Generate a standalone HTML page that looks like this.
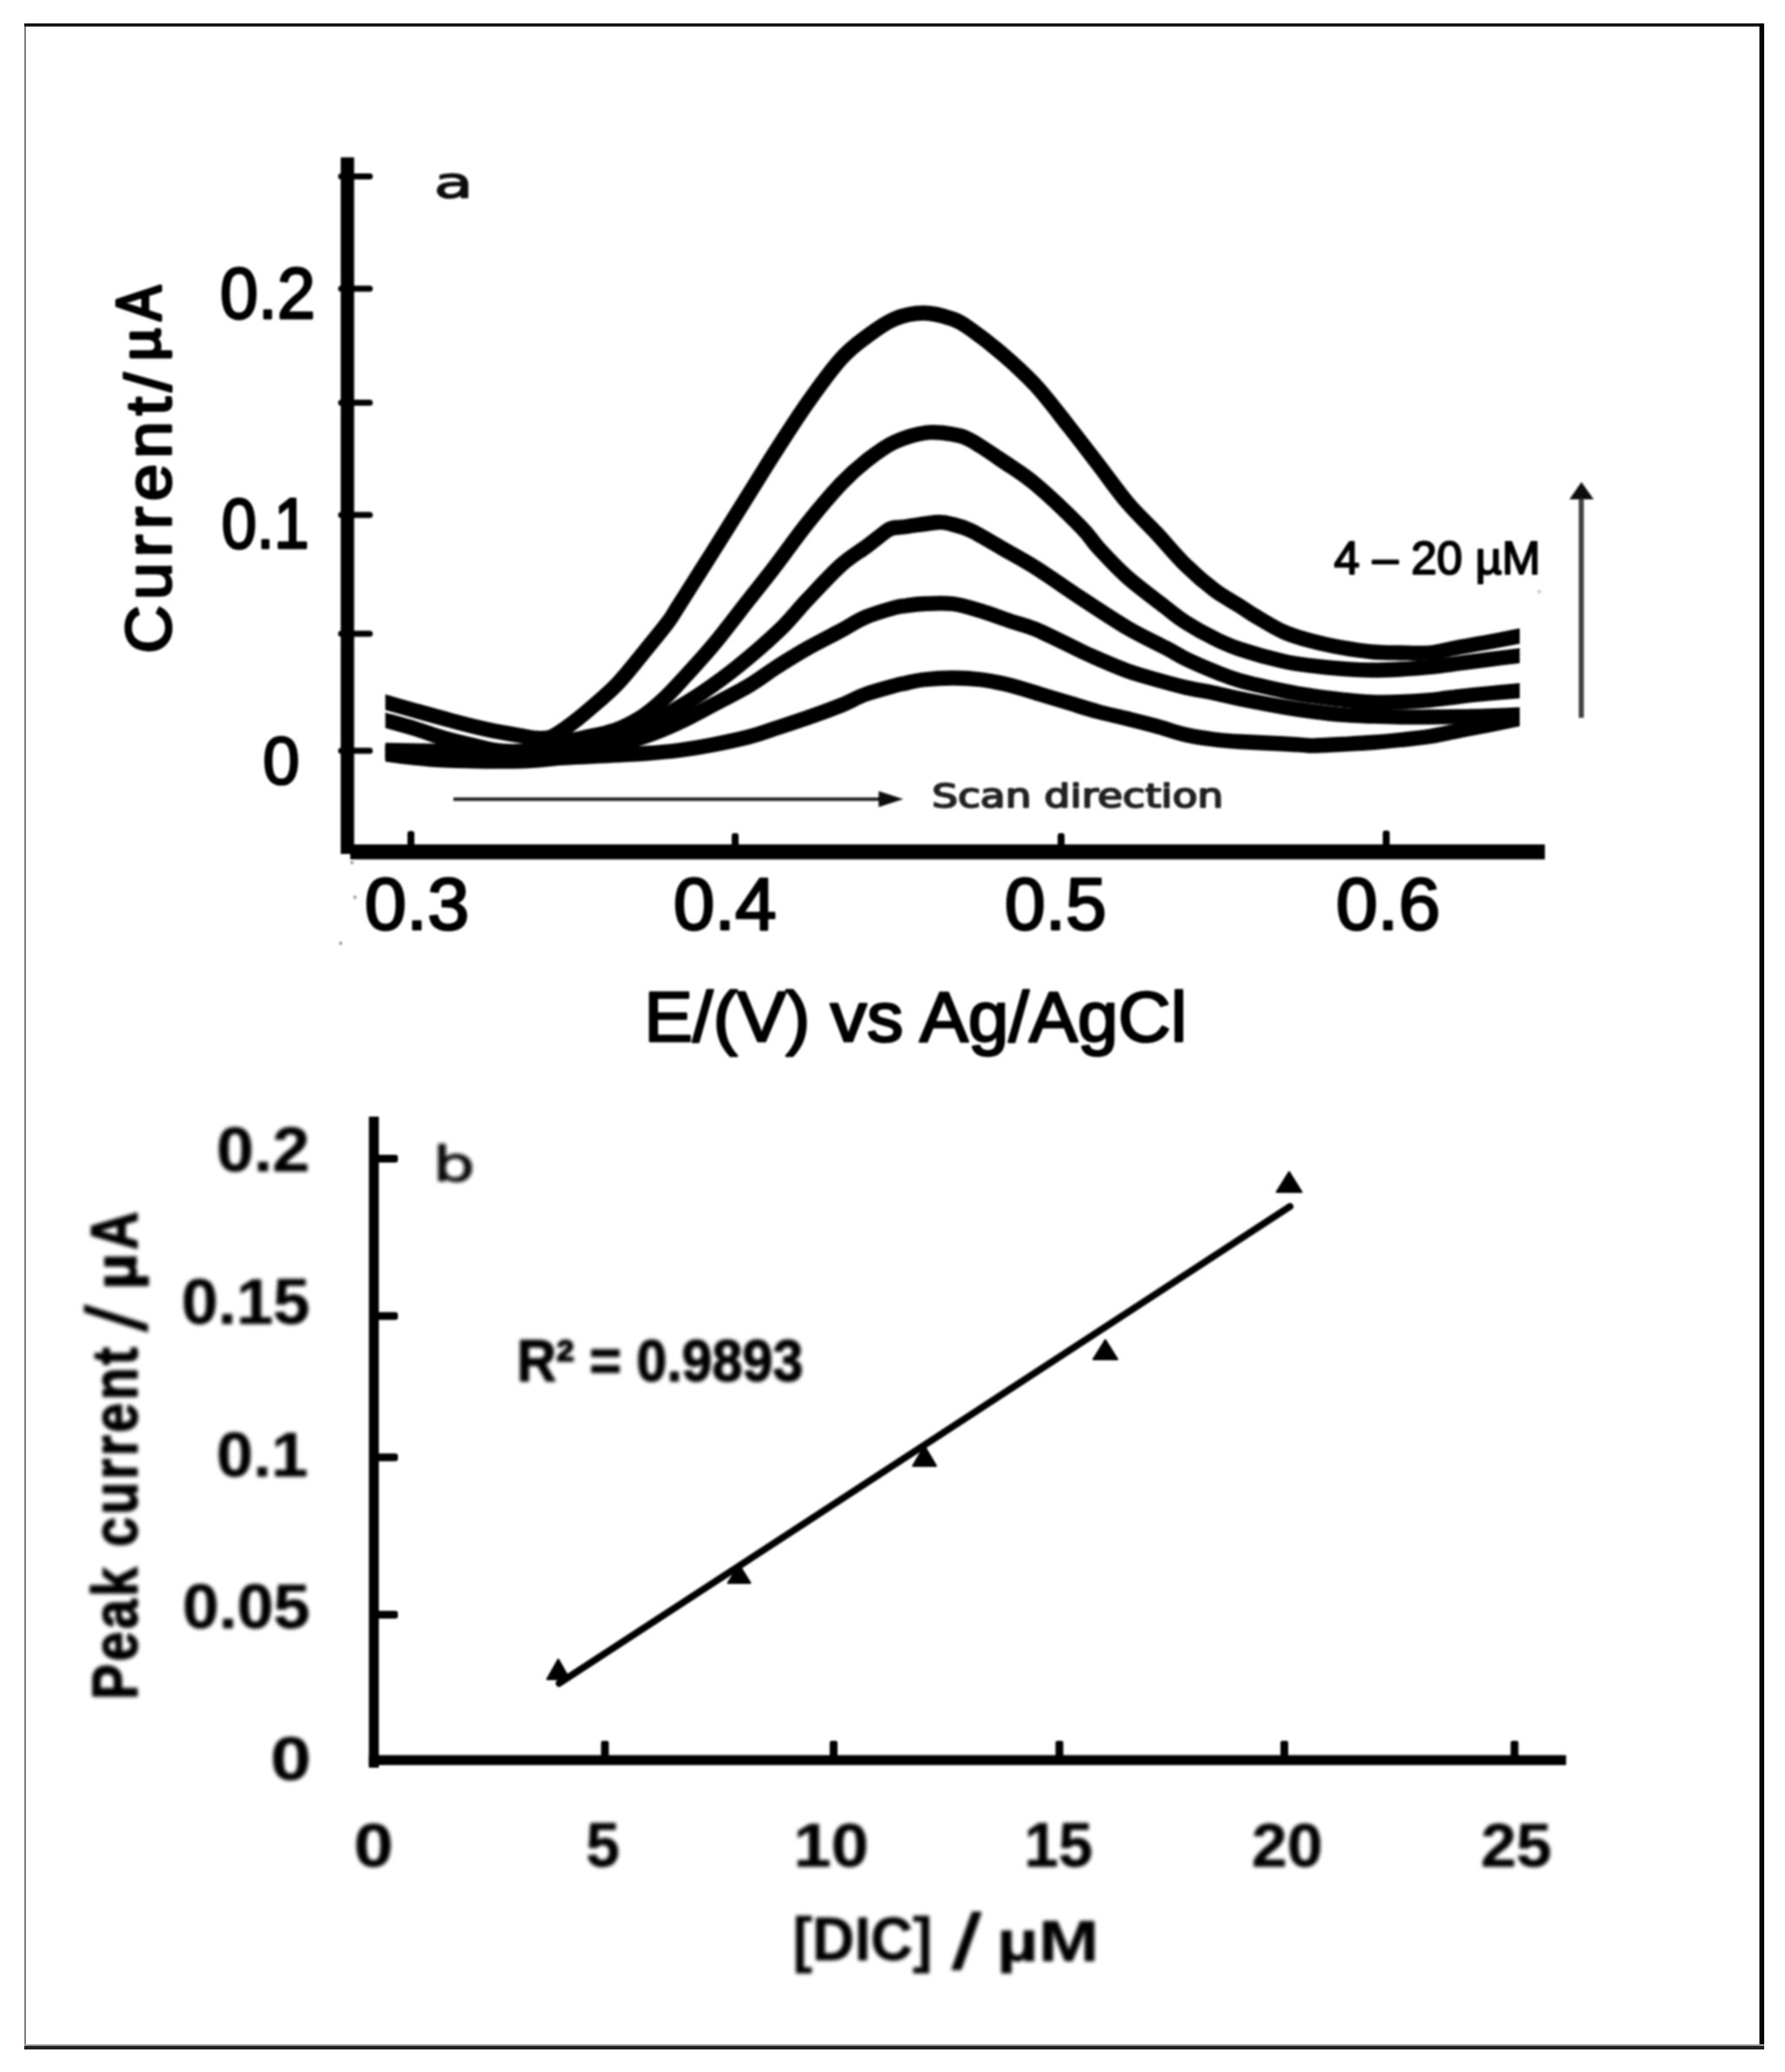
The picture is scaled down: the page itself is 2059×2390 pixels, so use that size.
<!DOCTYPE html>
<html lang="en"><head><meta charset="utf-8"><title>Figure</title>
<style>
html,body{margin:0;padding:0;background:#fff;}
body{width:2059px;height:2390px;overflow:hidden;position:relative;}
svg{position:absolute;left:0;top:0;display:block;}
text{white-space:pre;}
</style></head><body>
<svg width="2059" height="2390" viewBox="0 0 2059 2390">
<defs><filter id="soft" x="0" y="0" width="2059" height="2390" filterUnits="userSpaceOnUse"><feGaussianBlur stdDeviation="1.3"/></filter><filter id="soft2" x="0" y="0" width="2059" height="2390" filterUnits="userSpaceOnUse"><feGaussianBlur stdDeviation="1.9"/></filter></defs>
<rect x="0" y="0" width="2059" height="2390" fill="#fff"/>
<rect x="28" y="28.5" width="2" height="2333" fill="#7f7f7f"/>
<rect x="28" y="27" width="2007" height="3.6" fill="#111"/>
<rect x="2029.5" y="27" width="5.5" height="2337" fill="#050505"/>
<rect x="28" y="2358" width="2007" height="2" fill="#aaa"/>
<rect x="28" y="2359.8" width="2007" height="4.2" fill="#222"/>
<g filter="url(#soft)">
<rect x="393" y="181.5" width="15.5" height="803.5" fill="#000"/>
<rect x="404" y="974" width="1378" height="17.3" fill="#000"/>
<rect x="390" y="200.0" width="40" height="7" rx="3.5" fill="#000"/>
<rect x="390" y="329.5" width="40" height="7" rx="3.5" fill="#000"/>
<rect x="390" y="461.0" width="40" height="7" rx="3.5" fill="#000"/>
<rect x="390" y="590.5" width="40" height="7" rx="3.5" fill="#000"/>
<rect x="390" y="727.5" width="40" height="7" rx="3.5" fill="#000"/>
<rect x="390" y="862.5" width="40" height="7" rx="3.5" fill="#000"/>
<rect x="470" y="958.5" width="8" height="19.5" rx="3" fill="#000"/>
<rect x="844" y="961" width="8" height="17" rx="3" fill="#000"/>
<rect x="1220" y="961" width="8" height="17" rx="3" fill="#000"/>
<rect x="1595" y="958" width="8" height="20" rx="3" fill="#000"/>
<text transform="matrix(0.7908 0 0 0.8311 253.69 367.32)" font-family="'Liberation Sans', sans-serif" font-weight="normal" font-size="100" fill="#000" stroke="#000" stroke-width="3.33" stroke-linejoin="round">0.2</text>
<text transform="matrix(0.7278 0 0 0.8240 255.44 632.33)" font-family="'Liberation Sans', sans-serif" font-weight="normal" font-size="100" fill="#000" stroke="#000" stroke-width="3.49" stroke-linejoin="round">0.1</text>
<text transform="matrix(0.7602 0 0 0.7816 303.31 903.87)" font-family="'Liberation Sans', sans-serif" font-weight="normal" font-size="100" fill="#000" stroke="#000" stroke-width="3.50" stroke-linejoin="round">0</text>
<text transform="matrix(0.8696 0 0 0.8523 420.47 1071.80)" font-family="'Liberation Sans', sans-serif" font-weight="normal" font-size="100" fill="#000" stroke="#000" stroke-width="3.14" stroke-linejoin="round">0.3</text>
<text transform="matrix(0.8560 0 0 0.8523 776.63 1071.80)" font-family="'Liberation Sans', sans-serif" font-weight="normal" font-size="100" fill="#000" stroke="#000" stroke-width="3.16" stroke-linejoin="round">0.4</text>
<text transform="matrix(0.8473 0 0 0.8523 1158.66 1071.80)" font-family="'Liberation Sans', sans-serif" font-weight="normal" font-size="100" fill="#000" stroke="#000" stroke-width="3.18" stroke-linejoin="round">0.5</text>
<text transform="matrix(0.8665 0 0 0.8523 1540.88 1071.80)" font-family="'Liberation Sans', sans-serif" font-weight="normal" font-size="100" fill="#000" stroke="#000" stroke-width="3.14" stroke-linejoin="round">0.6</text>
<text transform="matrix(0.7395 0 0 0.4991 500.46 228.35)" font-family="'DejaVu Sans', sans-serif" font-weight="normal" font-size="100" fill="#111" stroke="#111" stroke-width="2.96" stroke-linejoin="round">a</text>
<text transform="matrix(0 -0.7697 0.7388 0 197.26 753.85)" font-family="'Liberation Sans', sans-serif" font-weight="normal" font-size="100" fill="#000" stroke="#000" stroke-width="3.98" stroke-linejoin="round" letter-spacing="8.50">Current/</text><text transform="matrix(0 -0.6474 0.6367 0 184.39 416.07)" font-family="'Liberation Sans', sans-serif" font-weight="normal" font-size="100" fill="#000" stroke="#000" stroke-width="5.61" stroke-linejoin="round">µ</text><text transform="matrix(0 -0.6023 0.7215 0 185.00 369.85)" font-family="'Liberation Sans', sans-serif" font-weight="normal" font-size="100" fill="#000" stroke="#000" stroke-width="5.46" stroke-linejoin="round">A</text>
<text transform="matrix(0.8411 0 0 0.8182 742.91 1201.17)" font-family="'Liberation Sans', sans-serif" font-weight="normal" font-size="100" fill="#000" stroke="#000" stroke-width="3.25" stroke-linejoin="round">E/(V) vs Ag/AgCl</text>
<text transform="matrix(0.4716 0 0 0.3652 1075.03 931.35)" font-family="'DejaVu Sans', sans-serif" font-weight="normal" font-size="100" fill="#222" stroke="#222" stroke-width="5.30" stroke-linejoin="round">Scan direction</text>
<text transform="matrix(0.5330 0 0 0.5304 1538.80 661.99)" font-family="'Liberation Sans', sans-serif" font-weight="normal" font-size="100" fill="#000" stroke="#000" stroke-width="3.76" stroke-linejoin="round">4 – 20 µM</text>
<rect x="523" y="919.8" width="495" height="4" fill="#222"/>
<path d="M1042 921.8 L1013.5 912.6 L1013.5 931 Z" fill="#111"/>
<rect x="1821" y="571" width="6" height="257" fill="#444"/>
<path d="M1824.2 556 L1810.3 576 L1838.3 576 Z" fill="#111"/>
<clipPath id="cc"><rect x="444.5" y="300" width="1308.5" height="650"/></clipPath>
<g clip-path="url(#cc)">
<path d="M431.0 806.0C433.3 806.7 436.8 807.7 445.0 810.0C453.2 812.3 467.5 816.5 480.0 820.0C492.5 823.5 506.7 827.5 520.0 831.0C533.3 834.5 546.7 838.1 560.0 841.0C573.3 843.9 590.0 846.8 600.0 848.5C610.0 850.2 614.0 851.2 620.0 851.5C626.0 851.8 630.2 852.2 636.0 850.0C641.8 847.8 647.7 843.3 655.0 838.0C662.3 832.7 670.5 826.2 680.0 818.0C689.5 809.8 701.5 800.0 712.0 789.0C722.5 778.0 733.2 764.0 743.0 752.0C752.8 740.0 764.5 725.7 771.0 717.0C777.5 708.3 773.8 712.8 782.0 700.0C790.2 687.2 805.3 663.3 820.0 640.0C834.7 616.7 857.5 580.0 870.0 560.0C882.5 540.0 884.7 536.0 895.0 520.0C905.3 504.0 919.5 481.7 932.0 464.0C944.5 446.3 958.7 426.7 970.0 414.0C981.3 401.3 989.7 395.7 1000.0 388.0C1010.3 380.3 1020.9 372.5 1031.7 368.0C1042.5 363.5 1053.8 361.0 1065.0 361.0C1076.2 361.0 1089.8 364.8 1099.0 368.0C1108.2 371.2 1110.3 373.2 1120.0 380.0C1129.7 386.8 1144.5 398.2 1157.0 409.0C1169.5 419.8 1182.3 431.2 1195.0 445.0C1207.7 458.8 1221.0 476.8 1233.0 492.0C1245.0 507.2 1255.7 521.3 1267.0 536.0C1278.3 550.7 1289.4 566.8 1300.6 580.0C1311.8 593.2 1322.8 603.0 1334.0 615.0C1345.2 627.0 1356.6 641.0 1367.8 652.0C1379.0 663.0 1391.0 673.2 1401.4 681.0C1411.8 688.8 1422.4 694.2 1430.0 699.0C1437.6 703.8 1438.5 705.0 1447.0 710.0C1455.5 715.0 1469.8 724.0 1481.0 729.0C1492.2 734.0 1502.8 736.7 1514.0 739.7C1525.2 742.7 1536.7 745.0 1548.0 747.0C1559.3 749.0 1570.8 750.8 1582.0 751.8C1593.2 752.8 1603.8 752.8 1615.0 753.0C1626.2 753.2 1637.8 754.0 1649.0 753.0C1660.2 752.0 1670.8 748.8 1682.0 746.7C1693.2 744.7 1704.2 742.9 1716.0 740.7C1727.8 738.5 1744.5 735.2 1753.0 733.6C1761.5 732.0 1764.7 731.4 1767.0 730.9" fill="none" stroke="#000" stroke-width="17.3" stroke-linecap="butt" stroke-linejoin="round"/>
<path d="M431.0 827.0C433.3 827.7 437.1 828.8 445.0 831.0C452.9 833.2 467.4 837.1 478.6 840.5C489.8 843.9 500.8 848.2 512.0 851.4C523.2 854.6 534.5 857.3 545.8 859.8C557.0 862.3 567.1 865.7 579.5 866.5C591.9 867.3 605.9 866.8 620.0 864.5C634.1 862.2 650.7 856.2 664.0 853.0C677.3 849.8 691.1 847.3 700.0 845.0C708.9 842.7 710.5 842.3 717.6 839.0C724.8 835.7 734.5 830.8 742.9 825.0C751.3 819.2 759.9 811.7 768.0 804.0C776.1 796.3 782.2 789.3 791.6 779.0C801.0 768.7 812.4 756.5 824.4 742.0C836.4 727.5 851.8 707.0 863.6 692.0C875.4 677.0 883.8 666.7 895.0 652.0C906.2 637.3 918.5 619.6 931.0 604.0C943.5 588.4 958.5 570.5 970.0 558.3C981.5 546.1 989.7 539.0 1000.0 531.0C1010.3 523.0 1020.2 515.3 1031.7 510.0C1043.2 504.7 1057.8 500.5 1069.0 499.0C1080.2 497.5 1090.5 499.5 1099.0 501.0C1107.5 502.5 1110.3 502.8 1120.0 508.0C1129.7 513.2 1144.5 523.5 1157.0 532.0C1169.5 540.5 1180.0 546.3 1195.0 559.0C1210.0 571.7 1235.0 595.8 1247.0 608.0C1259.0 620.2 1258.1 622.3 1267.0 632.0C1275.9 641.7 1287.6 654.5 1300.6 666.0C1313.6 677.5 1333.8 692.3 1345.0 701.0C1356.2 709.7 1358.5 712.1 1367.8 718.0C1377.1 723.9 1390.6 731.5 1401.0 736.6C1411.4 741.7 1416.7 744.3 1430.0 748.7C1443.3 753.1 1467.0 759.7 1481.0 762.9C1495.0 766.1 1502.8 766.6 1514.0 768.0C1525.2 769.4 1536.7 770.5 1548.0 771.3C1559.3 772.1 1570.8 772.9 1582.0 773.0C1593.2 773.1 1603.8 772.6 1615.0 772.0C1626.2 771.4 1637.8 770.6 1649.0 769.5C1660.2 768.4 1670.8 766.8 1682.0 765.3C1693.2 763.8 1704.2 762.3 1716.0 760.8C1727.8 759.3 1744.5 757.4 1753.0 756.4C1761.5 755.4 1764.7 755.0 1767.0 754.7" fill="none" stroke="#000" stroke-width="17.3" stroke-linecap="butt" stroke-linejoin="round"/>
<path d="M431.0 865.2C433.3 865.3 433.5 865.3 445.0 865.5C456.5 865.7 480.8 865.8 500.0 866.5C519.2 867.2 540.0 869.4 560.0 870.0C580.0 870.6 600.0 871.0 620.0 870.0C640.0 869.0 666.7 866.0 680.0 864.0C693.3 862.0 689.2 862.3 700.0 858.0C710.8 853.7 733.7 843.5 745.0 838.0C756.3 832.5 757.2 831.5 768.0 825.0C778.8 818.5 796.0 808.5 810.0 799.0C824.0 789.5 837.0 780.2 852.0 768.0C867.0 755.8 886.8 738.7 900.0 726.0C913.2 713.3 919.3 704.3 931.0 692.0C942.7 679.7 958.5 662.3 970.0 652.0C981.5 641.7 991.3 636.5 1000.0 630.0C1008.7 623.5 1017.0 616.5 1022.0 613.0C1027.0 609.5 1026.2 609.9 1030.0 609.0C1033.8 608.1 1036.3 608.6 1045.0 607.5C1053.7 606.4 1073.0 602.9 1082.0 602.5C1091.0 602.1 1092.7 603.4 1099.0 605.0C1105.3 606.6 1110.3 607.3 1120.0 612.0C1129.7 616.7 1144.5 625.8 1157.0 633.0C1169.5 640.2 1180.0 645.5 1195.0 655.0C1210.0 664.5 1229.4 678.4 1247.0 690.0C1264.6 701.6 1284.3 714.8 1300.6 724.4C1316.9 734.0 1333.8 741.5 1345.0 747.4C1356.2 753.3 1358.5 755.5 1367.8 760.0C1377.1 764.5 1390.6 770.3 1401.0 774.5C1411.4 778.7 1416.7 781.2 1430.0 785.0C1443.3 788.8 1467.0 794.0 1481.0 797.0C1495.0 800.0 1502.8 801.1 1514.0 802.8C1525.2 804.5 1536.7 805.8 1548.0 807.0C1559.3 808.2 1570.8 809.5 1582.0 810.0C1593.2 810.5 1603.8 810.1 1615.0 809.7C1626.2 809.3 1637.8 808.6 1649.0 807.6C1660.2 806.6 1670.8 804.9 1682.0 803.6C1693.2 802.3 1704.2 801.1 1716.0 800.0C1727.8 798.9 1744.5 797.5 1753.0 796.7C1761.5 795.9 1764.7 795.7 1767.0 795.5" fill="none" stroke="#000" stroke-width="17.3" stroke-linecap="butt" stroke-linejoin="round"/>
<path d="M431.0 866.2C433.3 866.5 433.5 866.5 445.0 868.0C456.5 869.5 480.8 873.3 500.0 875.0C519.2 876.7 540.0 877.7 560.0 878.0C580.0 878.3 600.0 878.7 620.0 877.0C640.0 875.3 659.2 872.7 680.0 868.0C700.8 863.3 727.8 854.8 745.0 849.0C762.2 843.2 770.5 839.3 783.0 833.5C795.5 827.7 806.6 821.5 820.0 814.4C833.4 807.3 851.1 798.4 863.6 791.0C876.1 783.6 883.8 777.2 895.0 770.0C906.2 762.8 918.5 755.1 931.0 748.0C943.5 740.9 958.8 733.4 970.0 727.4C981.2 721.4 987.7 716.4 998.0 712.0C1008.3 707.6 1023.9 703.2 1031.7 701.0C1039.5 698.8 1039.5 699.5 1045.0 698.7C1050.5 698.0 1056.0 696.9 1065.0 696.5C1074.0 696.1 1087.8 695.1 1099.0 696.5C1110.2 697.9 1121.3 701.6 1132.5 705.0C1143.7 708.4 1155.6 713.1 1166.0 716.6C1176.4 720.1 1181.5 720.3 1195.0 726.0C1208.5 731.7 1235.0 745.3 1247.0 751.0C1259.0 756.7 1258.1 756.2 1267.0 760.0C1275.9 763.8 1289.4 769.8 1300.6 773.8C1311.8 777.8 1322.8 780.8 1334.0 784.0C1345.2 787.2 1356.6 790.4 1367.8 793.0C1379.0 795.6 1390.6 797.3 1401.0 799.5C1411.4 801.7 1416.7 803.3 1430.0 806.0C1443.3 808.7 1467.0 813.2 1481.0 815.6C1495.0 818.0 1502.8 819.1 1514.0 820.6C1525.2 822.1 1536.7 823.6 1548.0 824.5C1559.3 825.4 1570.8 825.6 1582.0 826.0C1593.2 826.4 1603.8 826.8 1615.0 827.0C1626.2 827.2 1637.8 827.0 1649.0 827.0C1660.2 827.0 1670.8 826.9 1682.0 826.7C1693.2 826.5 1704.2 826.4 1716.0 826.0C1727.8 825.6 1744.5 824.8 1753.0 824.4C1761.5 824.0 1764.7 823.9 1767.0 823.8" fill="none" stroke="#000" stroke-width="17.3" stroke-linecap="butt" stroke-linejoin="round"/>
<path d="M431.0 868.5C433.3 868.7 433.5 868.7 445.0 870.0C456.5 871.3 480.8 874.8 500.0 876.0C519.2 877.2 540.0 877.6 560.0 877.5C580.0 877.4 600.0 876.3 620.0 875.5C640.0 874.7 659.2 873.6 680.0 872.5C700.8 871.4 727.8 870.2 745.0 869.0C762.2 867.8 770.5 867.1 783.0 865.5C795.5 863.9 806.6 862.1 820.0 859.5C833.4 856.9 851.1 853.2 863.6 850.0C876.1 846.8 883.8 843.7 895.0 840.0C906.2 836.3 918.5 832.4 931.0 828.0C943.5 823.6 958.8 818.1 970.0 813.6C981.2 809.1 987.7 804.8 998.0 801.0C1008.3 797.2 1023.9 793.2 1031.7 791.0C1039.5 788.8 1039.5 789.2 1045.0 788.0C1050.5 786.8 1056.0 785.0 1065.0 784.0C1074.0 783.0 1087.8 782.0 1099.0 782.0C1110.2 782.0 1121.3 782.6 1132.5 784.0C1143.7 785.4 1154.8 787.8 1166.0 790.6C1177.2 793.4 1188.5 797.3 1199.7 800.7C1210.9 804.1 1221.8 807.4 1233.0 810.8C1244.2 814.2 1255.7 818.0 1267.0 821.0C1278.3 824.0 1289.4 826.2 1300.6 829.0C1311.8 831.8 1322.8 834.5 1334.0 837.6C1345.2 840.7 1356.6 844.9 1367.8 847.5C1379.0 850.1 1390.6 851.7 1401.0 853.0C1411.4 854.3 1416.7 854.7 1430.0 855.5C1443.3 856.3 1467.7 857.2 1481.0 858.0C1494.3 858.8 1503.8 859.7 1510.0 860.0C1516.2 860.3 1511.7 860.2 1518.0 860.0C1524.3 859.8 1537.3 859.1 1548.0 858.5C1558.7 857.9 1570.8 857.3 1582.0 856.5C1593.2 855.7 1603.8 854.7 1615.0 853.5C1626.2 852.3 1637.8 851.2 1649.0 849.5C1660.2 847.8 1670.8 845.2 1682.0 843.0C1693.2 840.8 1704.2 838.8 1716.0 836.5C1727.8 834.2 1744.5 830.7 1753.0 829.0C1761.5 827.3 1764.7 826.6 1767.0 826.2" fill="none" stroke="#000" stroke-width="17.3" stroke-linecap="butt" stroke-linejoin="round"/>
</g>
<circle cx="1775.6" cy="682.4" r="2.2" fill="#c8c8c8"/>
<circle cx="406" cy="995" r="2" fill="#9a9a9a"/>
<circle cx="409.5" cy="1035" r="2" fill="#9a9a9a"/>
<circle cx="393" cy="1088" r="2" fill="#9a9a9a"/>
</g>
<g filter="url(#soft)">
<rect x="425.5" y="1288" width="11.5" height="751" fill="#000"/>
<rect x="425.5" y="2024.5" width="1381" height="11.5" fill="#000"/>
<rect x="428" y="1332.1" width="31" height="9" rx="3" fill="#000"/>
<rect x="428" y="1513.5" width="31" height="9" rx="3" fill="#000"/>
<rect x="428" y="1676.5" width="31" height="9" rx="3" fill="#000"/>
<rect x="428" y="1858.0" width="31" height="9" rx="3" fill="#000"/>
<rect x="693.3" y="2008" width="9" height="22" rx="2" fill="#000"/>
<rect x="957.1" y="2008" width="9" height="22" rx="2" fill="#000"/>
<rect x="1217.5" y="2008" width="9" height="22" rx="2" fill="#000"/>
<rect x="1477.0" y="2008" width="9" height="22" rx="2" fill="#000"/>
<rect x="1742.5" y="2008" width="9" height="22" rx="2" fill="#000"/>
</g>
<g filter="url(#soft2)">
<text transform="matrix(0.7726 0 0 0.7265 249.71 1351.47)" font-family="'Liberation Sans', sans-serif" font-weight="bold" font-size="100" fill="#000" stroke="#000" stroke-width="0.80" stroke-linejoin="round">0.2</text>
<text transform="matrix(0.7611 0 0 0.7336 209.26 1526.97)" font-family="'Liberation Sans', sans-serif" font-weight="bold" font-size="100" fill="#000" stroke="#000" stroke-width="0.80" stroke-linejoin="round">0.15</text>
<text transform="matrix(0.7592 0 0 0.7265 249.76 1703.47)" font-family="'Liberation Sans', sans-serif" font-weight="bold" font-size="100" fill="#000" stroke="#000" stroke-width="0.81" stroke-linejoin="round">0.1</text>
<text transform="matrix(0.7553 0 0 0.7265 210.48 1877.97)" font-family="'Liberation Sans', sans-serif" font-weight="bold" font-size="100" fill="#000" stroke="#000" stroke-width="0.81" stroke-linejoin="round">0.05</text>
<text transform="matrix(0.8421 0 0 0.7124 311.93 2052.99)" font-family="'Liberation Sans', sans-serif" font-weight="bold" font-size="100" fill="#000" stroke="#000" stroke-width="0.77" stroke-linejoin="round">0</text>
<text transform="matrix(0.8168 0 0 0.7124 408.23 2153.49)" font-family="'Liberation Sans', sans-serif" font-weight="bold" font-size="100" fill="#000" stroke="#000" stroke-width="0.79" stroke-linejoin="round">0</text>
<text transform="matrix(0.6975 0 0 0.7226 675.91 2153.48)" font-family="'Liberation Sans', sans-serif" font-weight="bold" font-size="100" fill="#000" stroke="#000" stroke-width="0.85" stroke-linejoin="round">5</text>
<text transform="matrix(0.7782 0 0 0.7124 915.44 2153.49)" font-family="'Liberation Sans', sans-serif" font-weight="bold" font-size="100" fill="#000" stroke="#000" stroke-width="0.81" stroke-linejoin="round">10</text>
<text transform="matrix(0.7078 0 0 0.7226 1181.58 2153.48)" font-family="'Liberation Sans', sans-serif" font-weight="bold" font-size="100" fill="#000" stroke="#000" stroke-width="0.84" stroke-linejoin="round">15</text>
<text transform="matrix(0.7382 0 0 0.7124 1443.72 2153.49)" font-family="'Liberation Sans', sans-serif" font-weight="bold" font-size="100" fill="#000" stroke="#000" stroke-width="0.83" stroke-linejoin="round">20</text>
<text transform="matrix(0.7332 0 0 0.7124 1708.33 2153.49)" font-family="'Liberation Sans', sans-serif" font-weight="bold" font-size="100" fill="#000" stroke="#000" stroke-width="0.83" stroke-linejoin="round">25</text>
<text transform="matrix(0.6735 0 0 0.7013 914.60 2261.15)" font-family="'Liberation Sans', sans-serif" font-weight="bold" font-size="100" fill="#000" stroke="#000" stroke-width="0.87" stroke-linejoin="round">[DIC] </text><text transform="matrix(1.1604 0 0 0.8952 1098.70 2271.00)" font-family="'Liberation Sans', sans-serif" font-weight="normal" font-size="100" fill="#000" stroke="#000" stroke-width="2.16" stroke-linejoin="round">/ </text><text transform="matrix(0.8368 0 0 0.6581 1149.86 2262.04)" font-family="'Liberation Sans', sans-serif" font-weight="bold" font-size="100" fill="#000" stroke="#000" stroke-width="0.81" stroke-linejoin="round">µM</text>
<text transform="matrix(0 -0.6151 0.7415 0 157.81 1960.40)" font-family="'Liberation Sans', sans-serif" font-weight="bold" font-size="100" fill="#000" stroke="#000" stroke-width="2.22" stroke-linejoin="round" letter-spacing="5.00">Peak current </text><text transform="matrix(0 -1.1568 0.9986 0 169.60 1536.80)" font-family="'Liberation Sans', sans-serif" font-weight="normal" font-size="100" fill="#000" stroke="#000" stroke-width="0.37" stroke-linejoin="round">/ </text><text transform="matrix(0 -0.7293 0.6939 0 156.85 1487.49)" font-family="'Liberation Sans', sans-serif" font-weight="bold" font-size="100" fill="#000" stroke="#000" stroke-width="2.11" stroke-linejoin="round">µ</text><text transform="matrix(0 -0.6119 0.7520 0 157.65 1441.78)" font-family="'Liberation Sans', sans-serif" font-weight="bold" font-size="100" fill="#000" stroke="#000" stroke-width="2.21" stroke-linejoin="round">A</text>
<text transform="matrix(0.7592 0 0 0.5497 499.57 1362.28)" font-family="'DejaVu Sans', sans-serif" font-weight="normal" font-size="100" fill="#111" stroke="#111" stroke-width="2.79" stroke-linejoin="round">b</text>
<text transform="matrix(0.6289 0 0 0.6775 596.15 1593.45)" font-family="'Liberation Sans', sans-serif" font-weight="bold" font-size="100" fill="#000" stroke="#000" stroke-width="2.14" stroke-linejoin="round">R² = 0.9893</text>
</g>
<g filter="url(#soft)">
<path d="M645 1941.7 L1488 1391.6" stroke="#000" stroke-width="8" stroke-linecap="round" fill="none"/>
<path d="M644 1914 L631 1937 L657 1937 Z" fill="#000" stroke="#000" stroke-width="2" stroke-linejoin="round"/>
<path d="M852.6 1805 L839.6 1826 L865.6 1826 Z" fill="#000" stroke="#000" stroke-width="2" stroke-linejoin="round"/>
<path d="M1066.4 1668 L1052.9 1691 L1079.9 1691 Z" fill="#000" stroke="#000" stroke-width="2" stroke-linejoin="round"/>
<path d="M1275 1545.6 L1261 1568 L1289 1568 Z" fill="#000" stroke="#000" stroke-width="2" stroke-linejoin="round"/>
<path d="M1487 1351.8 L1472.5 1375 L1501.5 1375 Z" fill="#000" stroke="#000" stroke-width="2" stroke-linejoin="round"/>
</g>
</svg>
</body></html>
